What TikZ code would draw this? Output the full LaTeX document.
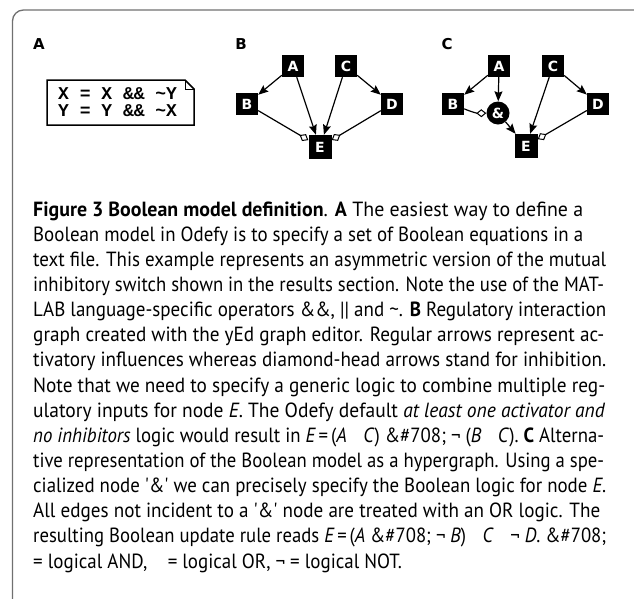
\documentclass[tikz,border=0pt]{standalone}
\usepackage{fontspec}
\usepackage{graphicx}
\setmainfont{PT Sans}
\setmonofont{Liberation Mono}
\newfontfamily\lblfont{DejaVu Sans}
\usetikzlibrary{arrows.meta}
\definecolor{framegray}{RGB}{112,112,112}
\newlength\capw
\newlength\capref
\newcommand\jline[2]{\settowidth\capw{#2}\ifdim\capw>#1pt\relax\resizebox{#1pt}{\height}{#2}\else\makebox[#1pt][s]{#2}\fi}
\newcommand\sq{\textquotesingle}
\newcommand\capfont{\fontsize{20.5}{25}\selectfont}
\begin{document}
\settowidth\capref{\capfont text file. This example represents an asymmetric version of the mutual}%
\pgfmathsetmacro\capf{573/\capref}%
\begin{tikzpicture}[x=1pt,y=-1pt,
  sqnode/.style={fill=black,text=white,font=\lblfont\bfseries\fontsize{14}{14}\selectfont,minimum size=22pt,inner sep=0pt},
  esq/.style={sqnode,minimum width=23pt,minimum height=24pt},
  andnode/.style={circle,fill=black,text=white,font=\lblfont\bfseries\fontsize{14}{14}\selectfont,minimum size=23pt,inner sep=0pt},
  act/.style={draw,line width=1.2pt,-{Stealth[length=10pt,width=8pt,inset=1.5pt]}},
  inh/.style={draw,line width=1.2pt,-{Diamond[fill=white,length=10pt,width=8pt,line width=1pt]}},
  panel/.style={font=\lblfont\bfseries\fontsize{15}{15}\selectfont,inner sep=0pt},
  eqtext/.style={font=\ttfamily\bfseries\fontsize{18}{18}\selectfont,inner sep=0pt,anchor=base west},
  captext/.style={anchor=base west,inner sep=0pt,font=\capfont}
]
\useasboundingbox (0,0) rectangle (634,598);
\begin{scope}
\clip (0,0) rectangle (634,598);
\draw[line width=1.3pt,framegray,rounded corners=11pt] (12.5,10) rectangle (645,630);
\end{scope}

% panel labels
\node[panel] (labA) at (39,44) {A};
\node[panel] (labB) at (241,44) {B};
\node[panel] (labC) at (447,44) {C};

% panel A: equations note
\node[eqtext] (eq1) at (58,99) {X = X \&\& \textasciitilde Y};
\node[eqtext] (eq2) at (58,116) {Y = Y \&\& \textasciitilde X};
\draw[line width=1.5pt] (47,80) -- (185,80) -- (194,89) -- (194,125) -- (47,125) -- cycle;
\draw[line width=1pt] (185,80) -- (185,89) -- (194,89);

% panel B
\node[sqnode] (bA) at (293,66) {A};
\node[sqnode] (bC) at (346,66) {C};
\node[sqnode] (bB) at (247,104) {B};
\node[sqnode] (bD) at (392,104) {D};
\node[esq] (bE) at (320,147) {E};
\draw[act] (bA) -- (bB);
\draw[act] (bA) -- (bE);
\draw[act] (bC) -- (bE);
\draw[act] (bC) -- (bD);
\draw[inh] (bB) -- (bE);
\draw[inh] (bD) -- (bE);

% panel C
\node[sqnode] (cA) at (499,66) {A};
\node[sqnode] (cC) at (553,66) {C};
\node[sqnode] (cB) at (453,104) {B};
\node[sqnode] (cD) at (598,104) {D};
\node[andnode] (cAnd) at (498,113) {\&};
\node[esq] (cE) at (526,146) {E};
\draw[act] (cA) -- (cB);
\draw[act] (cA) -- (cAnd);
\draw[inh] (cB) to[bend right=12] (cAnd);
\draw[act] (cAnd) -- (cE);
\draw[act] (cC) -- (cE);
\draw[act] (cC) -- (cD);
\draw[inh] (cD) -- (cE);

% caption
\node[captext] (l1) at (33,216.0) {\jline{550}{\textbf{Figure 3 Boolean model definition}. \textbf{A} The easiest way to define a}};
\node[captext] (l2) at (33,241.1) {\jline{550}{Boolean model in Odefy is to specify a set of Boolean equations in a}};
\node[captext] (l3) at (33,266.3) {\jline{573}{text file. This example represents an asymmetric version of the mutual}};
\node[captext] (l4) at (33,291.4) {\jline{571}{inhibitory switch shown in the results section. Note the use of the MAT-}};
\node[captext] (l5) at (33,316.6) {\jline{573}{LAB language-specific operators \&\&, || and \textasciitilde. \textbf{B} Regulatory interaction}};
\node[captext] (l6) at (33,341.7) {\jline{571}{graph created with the yEd graph editor. Regular arrows represent ac-}};
\node[captext] (l7) at (33,366.8) {\jline{573}{tivatory influences whereas diamond-head arrows stand for inhibition.}};
\node[captext] (l8) at (33,392.0) {\jline{572}{Note that we need to specify a generic logic to combine multiple reg-}};
\node[captext] (l9) at (33,417.1) {\jline{572}{ulatory inputs for node \textit{E}. The Odefy default \textit{at least one activator and}}};
\node[captext] (l10) at (33,442.3) {\jline{571}{\textit{no inhibitors} logic would result in \textit{E}\kern3pt=\kern3pt(\textit{A}\hspace{18pt}\textit{C}) \&\#708; ¬ (\textit{B}\hspace{18pt}\textit{C}). \textbf{C} Alterna-}};
\node[captext] (l11) at (33,467.4) {\jline{571}{tive representation of the Boolean model as a hypergraph. Using a spe-}};
\node[captext] (l12) at (33,492.5) {\jline{573}{cialized node \sq\&\sq{} we can precisely specify the Boolean logic for node \textit{E}.}};
\node[captext] (l13) at (33,517.7) {\jline{567}{All edges not incident to a \sq\&\sq{} node are treated with an OR logic. The}};
\node[captext] (l14) at (33,542.8) {\jline{573}{resulting Boolean update rule reads \textit{E}\kern3pt=\kern3pt(\textit{A} \&\#708; ¬ \textit{B})\hspace{18pt}\textit{C}\hspace{18pt}¬ \textit{D}. \&\#708;}};
\node[captext] (l15) at (33,568.0) {\scalebox{\capf}[1]{= logical AND,\hspace{22pt}= logical OR, ¬ = logical NOT.}};
\end{tikzpicture}
\end{document}
